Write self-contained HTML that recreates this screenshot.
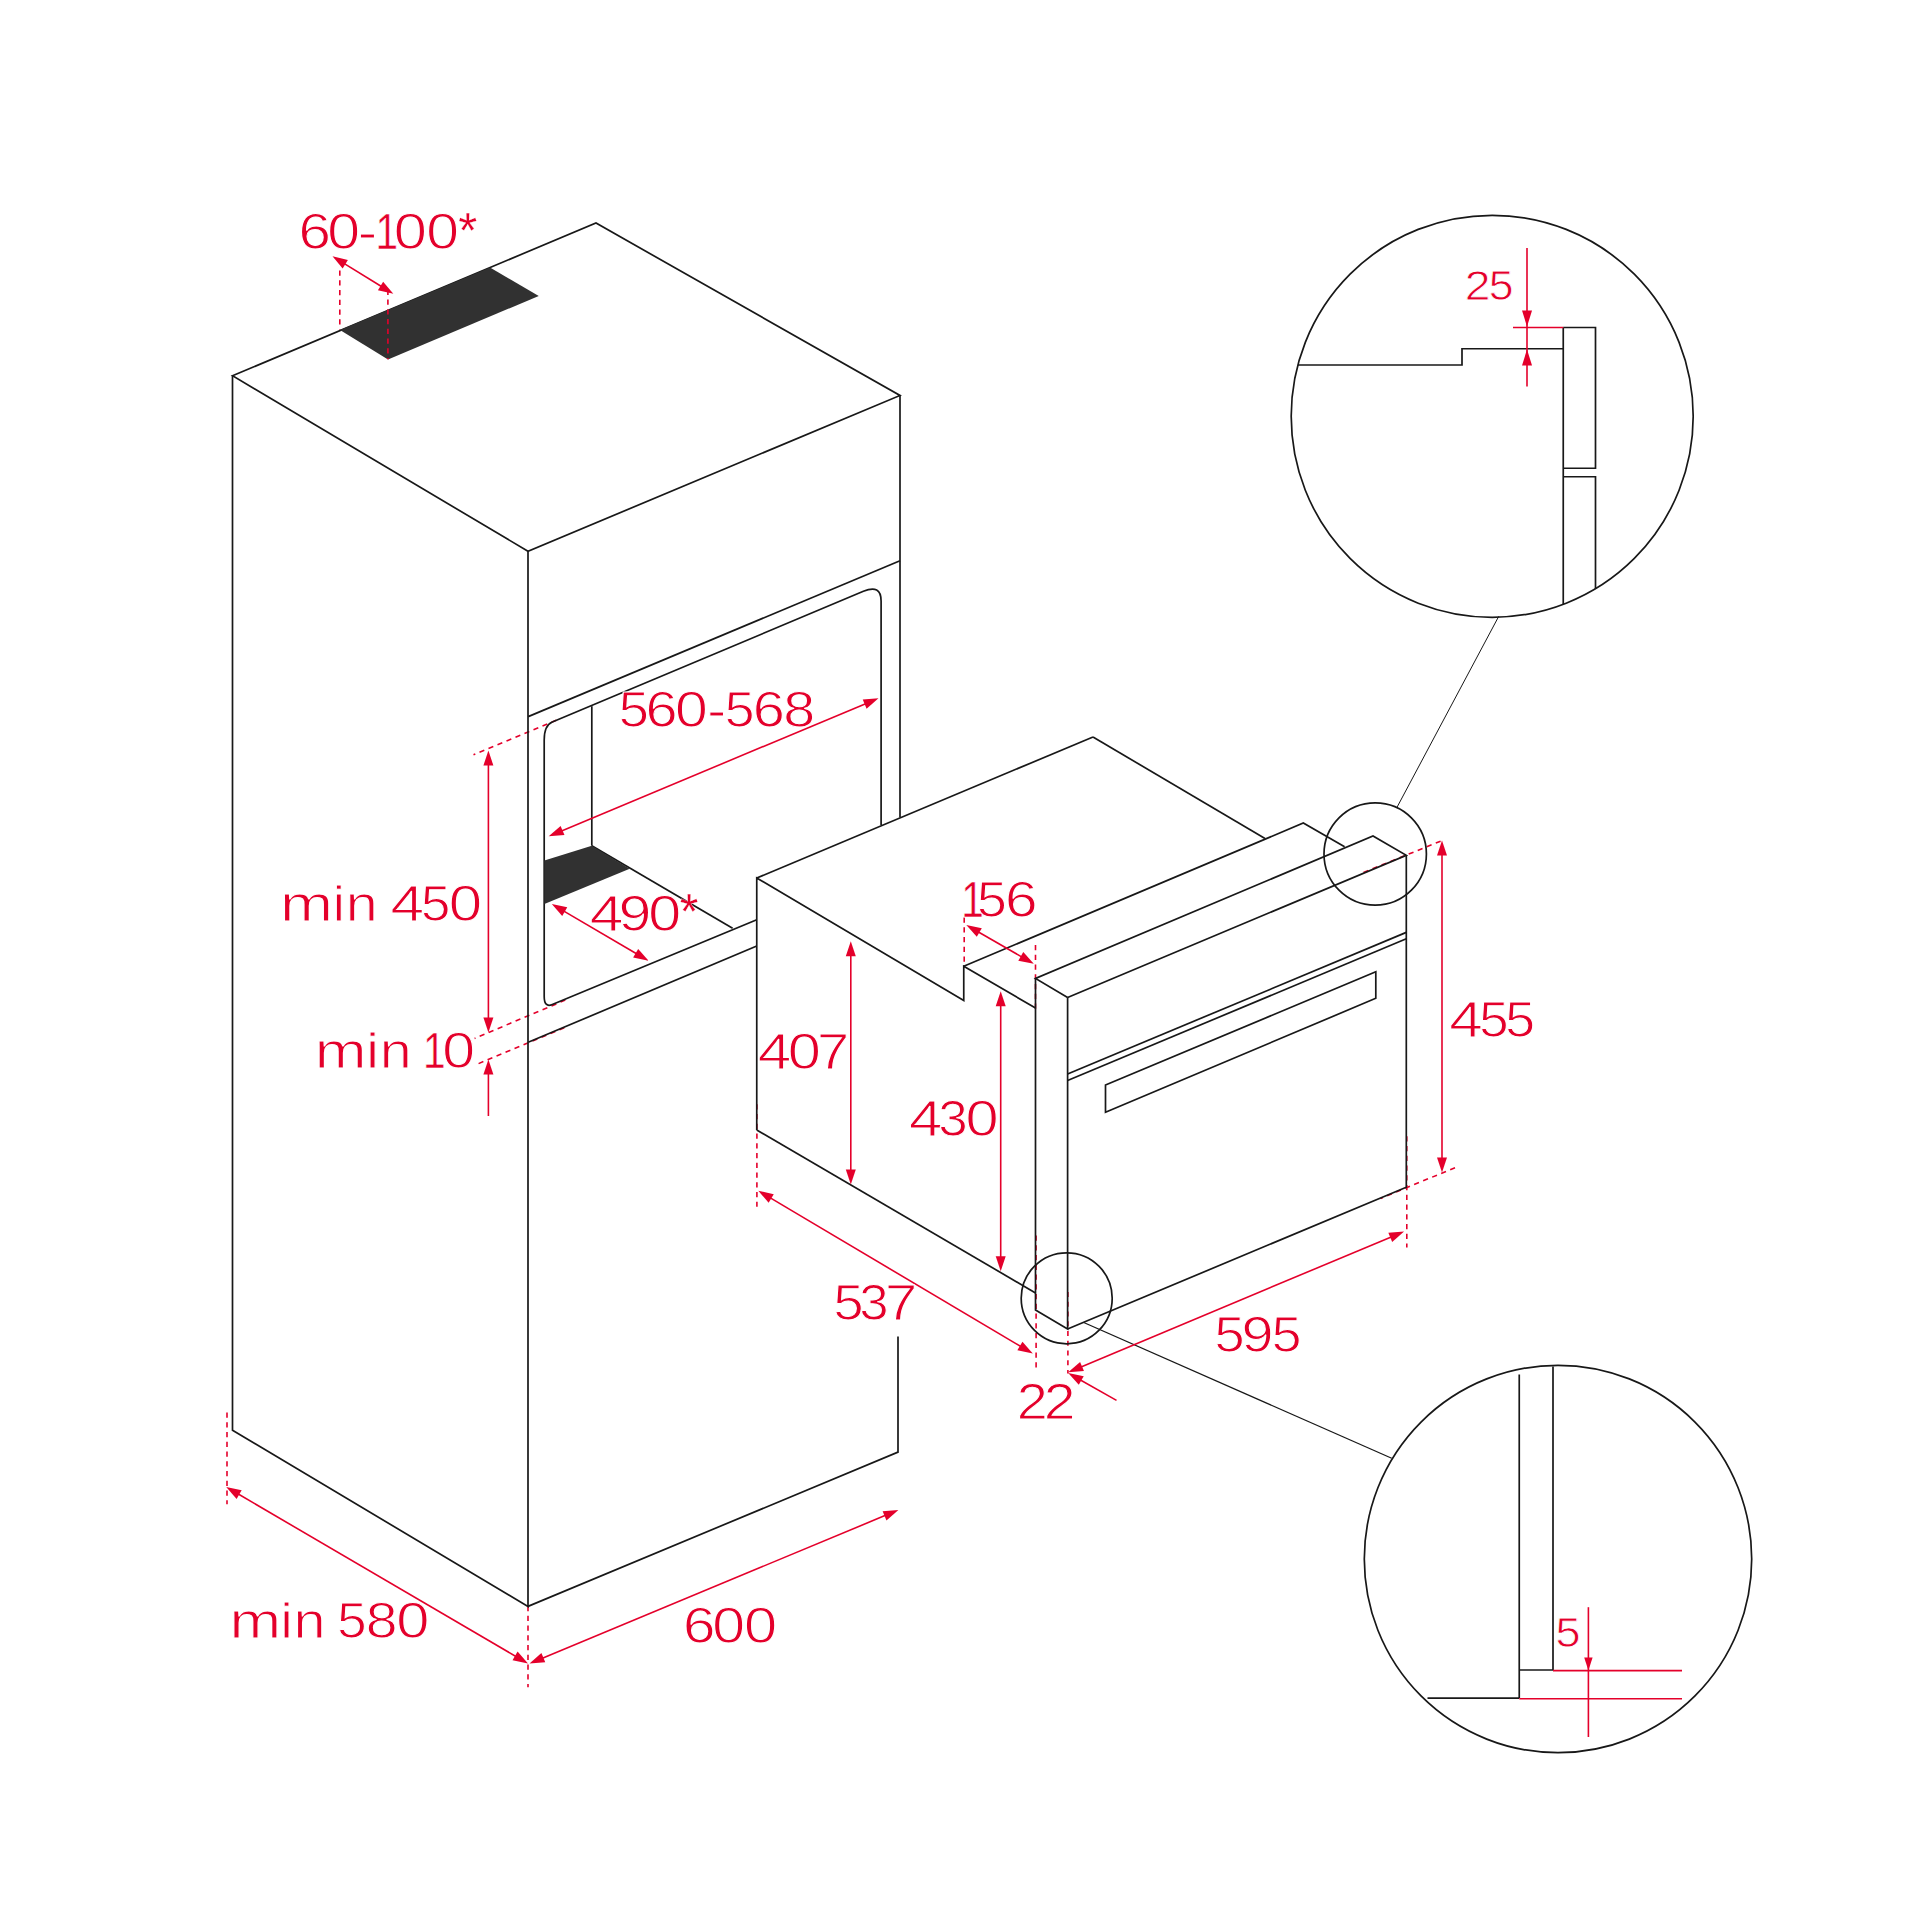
<!DOCTYPE html>
<html><head><meta charset="utf-8"><title>Installation diagram</title>
<style>html,body{margin:0;padding:0;background:#fff}svg{display:block}text{font-family:"Liberation Sans",sans-serif}</style>
</head><body>
<svg width="1920" height="1920" viewBox="0 0 1920 1920">
<rect width="1920" height="1920" fill="#fff"/>
<line x1="339.8" y1="270.6" x2="339.8" y2="329.5" stroke="#e4002b" stroke-width="1.6" stroke-dasharray="5.2 4.55"/>
<line x1="556.3" y1="720.3" x2="473.5" y2="754.8" stroke="#e4002b" stroke-width="1.6" stroke-dasharray="5.2 4.55"/>
<line x1="565.3" y1="1000.1" x2="474.6" y2="1038.4" stroke="#e4002b" stroke-width="1.6" stroke-dasharray="5.2 4.55"/>
<line x1="564.3" y1="1027.7" x2="474.8" y2="1065.2" stroke="#e4002b" stroke-width="1.6" stroke-dasharray="5.2 4.55"/>
<line x1="227" y1="1412.5" x2="227" y2="1504.3" stroke="#e4002b" stroke-width="1.6" stroke-dasharray="5.2 4.55"/>
<line x1="528" y1="1606" x2="528" y2="1687.3" stroke="#e4002b" stroke-width="1.6" stroke-dasharray="5.2 4.55"/>
<line x1="964.2" y1="917.5" x2="964.2" y2="966" stroke="#e4002b" stroke-width="1.6" stroke-dasharray="5.2 4.55"/>
<line x1="1035.5" y1="945" x2="1035.5" y2="1011" stroke="#e4002b" stroke-width="1.6" stroke-dasharray="5.2 4.55"/>
<line x1="756.9" y1="1104.2" x2="756.9" y2="1206.7" stroke="#e4002b" stroke-width="1.6" stroke-dasharray="5.2 4.55"/>
<line x1="1036.1" y1="1235.6" x2="1036.1" y2="1367.9" stroke="#e4002b" stroke-width="1.6" stroke-dasharray="5.2 4.55"/>
<line x1="1067.9" y1="1291.9" x2="1067.9" y2="1373.6" stroke="#e4002b" stroke-width="1.6" stroke-dasharray="5.2 4.55"/>
<line x1="1363.5" y1="872.4" x2="1442.5" y2="840.4" stroke="#e4002b" stroke-width="1.6" stroke-dasharray="5.2 4.55"/>
<line x1="1455" y1="1167.7" x2="1380.6" y2="1198.4" stroke="#e4002b" stroke-width="1.6" stroke-dasharray="5.2 4.55"/>
<line x1="1406.8" y1="1136.2" x2="1406.8" y2="1247.5" stroke="#e4002b" stroke-width="1.6" stroke-dasharray="5.2 4.55"/>
<path d="M232.5 375.75 L596 223 L900 395.5 L528 551.25 Z" fill="none" stroke="#181818" stroke-width="1.7" />
<path d="M232.5 375.75 L232.5 1430.3 L528 1606.4 L528 551.25" fill="none" stroke="#181818" stroke-width="1.7" />
<line x1="900" y1="395.5" x2="900" y2="817.5" stroke="#181818" stroke-width="1.7" />
<path d="M898 1336.6 L898 1452.1 L528 1606.4" fill="none" stroke="#181818" stroke-width="1.7" />
<path d="M340 330 L490 267.5 L538.75 296 L388 359.5 Z" fill="#313131" stroke="none" stroke-width="0" />
<line x1="900" y1="560.8" x2="528.2" y2="716.6" stroke="#181818" stroke-width="1.7" />
<path d="M881.1 825 L881.1 601 Q881.1 583.9 863.4 591.3 L552.3 722 Q544.2 725.4 544.2 740 L544.2 996.5 Q544.2 1007.9 552.3 1004.5 L756.75 919.7" fill="none" stroke="#181818" stroke-width="1.7"/>
<line x1="528.2" y1="1042.3" x2="756.75" y2="946" stroke="#181818" stroke-width="1.7" />
<line x1="591.8" y1="706.2" x2="591.8" y2="845.7" stroke="#181818" stroke-width="1.7" />
<line x1="591.8" y1="845.7" x2="732.6" y2="928.3" stroke="#181818" stroke-width="1.7" />
<path d="M544.4 860.6 L591.8 845.7 L629.7 868.7 L544.4 904 Z" fill="#313131" stroke="none" stroke-width="0" />
<line x1="756.75" y1="878" x2="1093" y2="737" stroke="#181818" stroke-width="1.7" />
<line x1="1093" y1="737" x2="1265" y2="838.5" stroke="#181818" stroke-width="1.7" />
<path d="M756.75 1130 L756.75 878 L963.75 1000.5 L963.75 966.25 L1035.5 1008" fill="none" stroke="#181818" stroke-width="1.7" />
<path d="M963.75 966.25 L1303.3 823 L1344.6 846.7" fill="none" stroke="#181818" stroke-width="1.7" />
<line x1="756.75" y1="1130" x2="1035.5" y2="1292.9" stroke="#181818" stroke-width="1.7" />
<path d="M1067.6 997.5 L1035.5 978.5 L1373 836 L1406.3 855.3 L1067.6 997.5" fill="none" stroke="#181818" stroke-width="1.7" />
<path d="M1035.5 978.5 L1035.5 1310 L1067.6 1329 L1067.6 997.5" fill="none" stroke="#181818" stroke-width="1.7" />
<path d="M1067.6 1329 L1406.3 1187.2 L1406.3 855.3" fill="none" stroke="#181818" stroke-width="1.7" />
<line x1="1067.6" y1="1074" x2="1406.3" y2="932.4" stroke="#181818" stroke-width="1.7" />
<line x1="1067.6" y1="1080.5" x2="1406.3" y2="938.8" stroke="#181818" stroke-width="1.7" />
<path d="M1105.5 1085 L1375.8 971.8 L1375.8 998.3 L1105.5 1112.3 Z" fill="none" stroke="#181818" stroke-width="1.7" />
<circle cx="1375.2" cy="854" r="51.2" fill="none" stroke="#181818" stroke-width="1.7"/>
<circle cx="1066.7" cy="1298.3" r="45.5" fill="none" stroke="#181818" stroke-width="1.7"/>
<line x1="1397.1" y1="807.1" x2="1498.75" y2="616.3" stroke="#181818" stroke-width="1.0" />
<line x1="1083.75" y1="1322.5" x2="1391.7" y2="1458.3" stroke="#181818" stroke-width="1.25" />
<circle cx="1492.2" cy="416.3" r="201" fill="none" stroke="#181818" stroke-width="1.7"/>
<path d="M1297.86 365 L1462 365 L1462 348.75 L1563.25 348.75" fill="none" stroke="#181818" stroke-width="1.7" />
<line x1="1563.25" y1="327.5" x2="1563.25" y2="604.32" stroke="#181818" stroke-width="1.7" />
<path d="M1563.25 327.5 L1595.5 327.5 L1595.5 468.25 L1563.25 468.25" fill="none" stroke="#181818" stroke-width="1.7" />
<path d="M1563.25 476.75 L1595.5 476.75 L1595.5 588.72" fill="none" stroke="#181818" stroke-width="1.7" />
<line x1="1513" y1="327.5" x2="1563.25" y2="327.5" stroke="#e4002b" stroke-width="1.6" />
<line x1="1527" y1="248" x2="1527" y2="386.5" stroke="#e4002b" stroke-width="1.6" />
<polygon points="1527,326.5 1522,310.5 1532,310.5" fill="#e4002b"/>
<polygon points="1527,349.5 1532,365.5 1522,365.5" fill="#e4002b"/>
<circle cx="1558" cy="1559" r="193.7" fill="none" stroke="#181818" stroke-width="1.7"/>
<line x1="1519.25" y1="1374.5" x2="1519.25" y2="1698.1" stroke="#181818" stroke-width="1.7" />
<path d="M1553 1366.5 L1553 1670 L1519.25 1670" fill="none" stroke="#181818" stroke-width="1.7" />
<line x1="1427.5" y1="1698.1" x2="1519.25" y2="1698.1" stroke="#181818" stroke-width="1.7" />
<line x1="1553" y1="1670.6" x2="1682" y2="1670.6" stroke="#e4002b" stroke-width="1.6" />
<line x1="1519.25" y1="1698.7" x2="1682" y2="1698.7" stroke="#e4002b" stroke-width="1.6" />
<line x1="1588.4" y1="1607.2" x2="1588.4" y2="1737" stroke="#e4002b" stroke-width="1.6" />
<polygon points="1588.4,1670.6 1584.2,1657.6 1592.6,1657.6" fill="#e4002b"/>
<line x1="387.9" y1="289.8" x2="387.9" y2="359.3" stroke="#e4002b" stroke-width="1.6" stroke-dasharray="5.2 4.55"/>
<line x1="342.71" y1="262.6" x2="383.09" y2="287.5" stroke="#e4002b" stroke-width="1.6" />
<polygon points="332.5,256.3 347.89,259.92 342.64,268.43" fill="#e4002b"/>
<polygon points="393.3,293.8 377.91,290.18 383.16,281.67" fill="#e4002b"/>
<line x1="559.77" y1="831.67" x2="867.43" y2="702.93" stroke="#e4002b" stroke-width="1.6" />
<polygon points="548.7,836.3 560.61,825.9 564.47,835.12" fill="#e4002b"/>
<polygon points="878.5,698.3 866.59,708.7 862.73,699.48" fill="#e4002b"/>
<line x1="562.15" y1="910.07" x2="638.25" y2="954.73" stroke="#e4002b" stroke-width="1.6" />
<polygon points="551.8,904 567.27,907.28 562.21,915.9" fill="#e4002b"/>
<polygon points="648.6,960.8 633.13,957.52 638.19,948.9" fill="#e4002b"/>
<line x1="488.4" y1="762.6" x2="488.4" y2="1020.4" stroke="#e4002b" stroke-width="1.6" />
<polygon points="488.4,750.6 493.4,765.6 483.4,765.6" fill="#e4002b"/>
<polygon points="488.4,1032.4 483.4,1017.4 493.4,1017.4" fill="#e4002b"/>
<line x1="488.4" y1="1116" x2="488.4" y2="1071.5" stroke="#e4002b" stroke-width="1.6" />
<polygon points="488.4,1059.5 493.4,1074.5 483.4,1074.5" fill="#e4002b"/>
<line x1="236.56" y1="1493.06" x2="517.64" y2="1657.44" stroke="#e4002b" stroke-width="1.6" />
<polygon points="226.2,1487 241.67,1490.26 236.62,1498.89" fill="#e4002b"/>
<polygon points="528,1663.5 512.53,1660.24 517.58,1651.61" fill="#e4002b"/>
<line x1="540.58" y1="1658.89" x2="887.32" y2="1514.61" stroke="#e4002b" stroke-width="1.6" />
<polygon points="529.5,1663.5 541.43,1653.12 545.27,1662.35" fill="#e4002b"/>
<polygon points="898.4,1510 886.47,1520.38 882.63,1511.15" fill="#e4002b"/>
<line x1="976.7" y1="930.98" x2="1023.4" y2="957.82" stroke="#e4002b" stroke-width="1.6" />
<polygon points="966.3,925 981.8,928.14 976.81,936.81" fill="#e4002b"/>
<polygon points="1033.8,963.8 1018.3,960.66 1023.29,951.99" fill="#e4002b"/>
<line x1="850.8" y1="953.3" x2="850.8" y2="1172.6" stroke="#e4002b" stroke-width="1.6" />
<polygon points="850.8,941.3 855.8,956.3 845.8,956.3" fill="#e4002b"/>
<polygon points="850.8,1184.6 845.8,1169.6 855.8,1169.6" fill="#e4002b"/>
<line x1="1000.7" y1="1003.3" x2="1000.7" y2="1259.3" stroke="#e4002b" stroke-width="1.6" />
<polygon points="1000.7,991.3 1005.7,1006.3 995.7,1006.3" fill="#e4002b"/>
<polygon points="1000.7,1271.3 995.7,1256.3 1005.7,1256.3" fill="#e4002b"/>
<line x1="768.62" y1="1196.92" x2="1022.48" y2="1347.48" stroke="#e4002b" stroke-width="1.6" />
<polygon points="758.3,1190.8 773.75,1194.15 768.65,1202.75" fill="#e4002b"/>
<polygon points="1032.8,1353.6 1017.35,1350.25 1022.45,1341.65" fill="#e4002b"/>
<line x1="1079.27" y1="1367.66" x2="1393.03" y2="1236.14" stroke="#e4002b" stroke-width="1.6" />
<polygon points="1068.2,1372.3 1080.1,1361.89 1083.97,1371.11" fill="#e4002b"/>
<polygon points="1404.1,1231.5 1392.2,1241.91 1388.33,1232.69" fill="#e4002b"/>
<line x1="1116.5" y1="1400.4" x2="1078.65" y2="1379" stroke="#e4002b" stroke-width="1.6" />
<polygon points="1068.2,1373.1 1083.72,1376.13 1078.8,1384.83" fill="#e4002b"/>
<line x1="1442" y1="852.6" x2="1442" y2="1160.5" stroke="#e4002b" stroke-width="1.6" />
<polygon points="1442,840.6 1447,855.6 1437,855.6" fill="#e4002b"/>
<polygon points="1442,1172.5 1437,1157.5 1447,1157.5" fill="#e4002b"/>
<text y="249.4" font-size="50.8" fill="#e4002b" stroke="#fff" stroke-width="1"><tspan x="298.44" textLength="32.42" lengthAdjust="spacingAndGlyphs">6</tspan><tspan x="327.2" textLength="32.81" lengthAdjust="spacingAndGlyphs">0</tspan><tspan x="357.82" textLength="19.37" lengthAdjust="spacingAndGlyphs">-</tspan><tspan x="375.54" stroke-width="0.5" textLength="22.6" lengthAdjust="spacingAndGlyphs">1</tspan><tspan x="393.77" textLength="33.16" lengthAdjust="spacingAndGlyphs">0</tspan><tspan x="426.3" textLength="32.75" lengthAdjust="spacingAndGlyphs">0</tspan><tspan x="458.16" dy="-1.6" stroke-width="0.3" textLength="19" lengthAdjust="spacingAndGlyphs">*</tspan></text>
<text y="726.6" font-size="50.8" fill="#e4002b" stroke="#fff" stroke-width="1"><tspan x="618.73" textLength="30.15" lengthAdjust="spacingAndGlyphs">5</tspan><tspan x="645.47" textLength="32.06" lengthAdjust="spacingAndGlyphs">6</tspan><tspan x="675.1" textLength="32.81" lengthAdjust="spacingAndGlyphs">0</tspan><tspan x="707.39" textLength="18.82" lengthAdjust="spacingAndGlyphs">-</tspan><tspan x="724.85" textLength="29.79" lengthAdjust="spacingAndGlyphs">5</tspan><tspan x="752.82" textLength="32.12" lengthAdjust="spacingAndGlyphs">6</tspan><tspan x="783.25" textLength="31.94" lengthAdjust="spacingAndGlyphs">8</tspan></text>
<text y="930.9" font-size="50.8" fill="#e4002b" stroke="#fff" stroke-width="1"><tspan x="589.81" textLength="33.66" lengthAdjust="spacingAndGlyphs">4</tspan><tspan x="618.63" textLength="32.87" lengthAdjust="spacingAndGlyphs">9</tspan><tspan x="648.29" textLength="32.93" lengthAdjust="spacingAndGlyphs">0</tspan><tspan x="679.68" dy="-1.6" stroke-width="0.3" textLength="18.62" lengthAdjust="spacingAndGlyphs">*</tspan></text>
<text y="920.9" font-size="50.8" fill="#e4002b" stroke="#fff" stroke-width="1"><tspan x="279.97" font-size="49.7" textLength="53.02" lengthAdjust="spacingAndGlyphs">m</tspan><tspan x="332.59" font-size="49.7" textLength="12.64" lengthAdjust="spacingAndGlyphs">i</tspan><tspan x="345.79" font-size="49.7" textLength="31.94" lengthAdjust="spacingAndGlyphs">n</tspan> <tspan x="390.61" textLength="33.66" lengthAdjust="spacingAndGlyphs">4</tspan><tspan x="420.99" textLength="29.33" lengthAdjust="spacingAndGlyphs">5</tspan><tspan x="448.65" textLength="33.39" lengthAdjust="spacingAndGlyphs">0</tspan></text>
<text y="1068.2" font-size="50.8" fill="#e4002b" stroke="#fff" stroke-width="1"><tspan x="314.77" font-size="49.7" textLength="51.83" lengthAdjust="spacingAndGlyphs">m</tspan><tspan x="366.04" font-size="49.7" textLength="13.14" lengthAdjust="spacingAndGlyphs">i</tspan><tspan x="379.79" font-size="49.7" textLength="31.94" lengthAdjust="spacingAndGlyphs">n</tspan> <tspan x="423.04" stroke-width="0.5" textLength="22.6" lengthAdjust="spacingAndGlyphs">1</tspan><tspan x="442.2" textLength="32.81" lengthAdjust="spacingAndGlyphs">0</tspan></text>
<text y="1638.1" font-size="50.8" fill="#e4002b" stroke="#fff" stroke-width="1"><tspan x="229.59" font-size="49.7" textLength="51.6" lengthAdjust="spacingAndGlyphs">m</tspan><tspan x="280.29" font-size="49.7" textLength="12.64" lengthAdjust="spacingAndGlyphs">i</tspan><tspan x="293.47" font-size="49.7" textLength="32.08" lengthAdjust="spacingAndGlyphs">n</tspan> <tspan x="337.29" textLength="29.33" lengthAdjust="spacingAndGlyphs">5</tspan><tspan x="365.82" textLength="31.76" lengthAdjust="spacingAndGlyphs">8</tspan><tspan x="396.37" textLength="33.16" lengthAdjust="spacingAndGlyphs">0</tspan></text>
<text y="1643.1" font-size="50.8" fill="#e4002b" stroke="#fff" stroke-width="1"><tspan x="683.14" textLength="32.42" lengthAdjust="spacingAndGlyphs">6</tspan><tspan x="712.2" textLength="32.81" lengthAdjust="spacingAndGlyphs">0</tspan><tspan x="744.07" textLength="33.16" lengthAdjust="spacingAndGlyphs">0</tspan></text>
<text y="917.1" font-size="50.8" fill="#e4002b" stroke="#fff" stroke-width="1"><tspan x="961.14" stroke-width="0.5" textLength="22.6" lengthAdjust="spacingAndGlyphs">1</tspan><tspan x="977.05" textLength="29.79" lengthAdjust="spacingAndGlyphs">5</tspan><tspan x="1004.93" textLength="32.54" lengthAdjust="spacingAndGlyphs">6</tspan></text>
<text y="1068.9" font-size="50.8" fill="#e4002b" stroke="#fff" stroke-width="1"><tspan x="757.82" textLength="33.55" lengthAdjust="spacingAndGlyphs">4</tspan><tspan x="787.77" textLength="33.16" lengthAdjust="spacingAndGlyphs">0</tspan><tspan x="817.13" textLength="32.18" lengthAdjust="spacingAndGlyphs">7</tspan></text>
<text y="1135.9" font-size="50.8" fill="#e4002b" stroke="#fff" stroke-width="1"><tspan x="909.02" textLength="33.55" lengthAdjust="spacingAndGlyphs">4</tspan><tspan x="938.38" textLength="29.44" lengthAdjust="spacingAndGlyphs">3</tspan><tspan x="965.57" textLength="33.16" lengthAdjust="spacingAndGlyphs">0</tspan></text>
<text y="1320.3" font-size="50.8" fill="#e4002b" stroke="#fff" stroke-width="1"><tspan x="833.58" textLength="30.09" lengthAdjust="spacingAndGlyphs">5</tspan><tspan x="859.39" textLength="29.33" lengthAdjust="spacingAndGlyphs">3</tspan><tspan x="884.93" textLength="32.24" lengthAdjust="spacingAndGlyphs">7</tspan></text>
<text y="1351.9" font-size="50.8" fill="#e4002b" stroke="#fff" stroke-width="1"><tspan x="1214.53" textLength="30.15" lengthAdjust="spacingAndGlyphs">5</tspan><tspan x="1241.5" textLength="32.03" lengthAdjust="spacingAndGlyphs">9</tspan><tspan x="1271.76" textLength="29.74" lengthAdjust="spacingAndGlyphs">5</tspan></text>
<text y="1418.6" font-size="50.8" fill="#e4002b" stroke="#fff" stroke-width="1"><tspan x="1016.7" textLength="31.01" lengthAdjust="spacingAndGlyphs">2</tspan><tspan x="1043.83" textLength="31.74" lengthAdjust="spacingAndGlyphs">2</tspan></text>
<text y="1036.9" font-size="50.8" fill="#e4002b" stroke="#fff" stroke-width="1"><tspan x="1449.37" textLength="33.5" lengthAdjust="spacingAndGlyphs">4</tspan><tspan x="1479.29" textLength="29.33" lengthAdjust="spacingAndGlyphs">5</tspan><tspan x="1505.15" textLength="29.79" lengthAdjust="spacingAndGlyphs">5</tspan></text>
<text y="300.1" font-size="42.3" fill="#e4002b" stroke="#fff" stroke-width="0.8"><tspan x="1464.77" textLength="25.76" lengthAdjust="spacingAndGlyphs">2</tspan><tspan x="1488.71" textLength="24.81" lengthAdjust="spacingAndGlyphs">5</tspan></text>
<text y="1646.5" font-size="42" fill="#e4002b" stroke="#fff" stroke-width="0.8"><tspan x="1555.59" textLength="25.1" lengthAdjust="spacingAndGlyphs">5</tspan></text>
</svg>
</body></html>
